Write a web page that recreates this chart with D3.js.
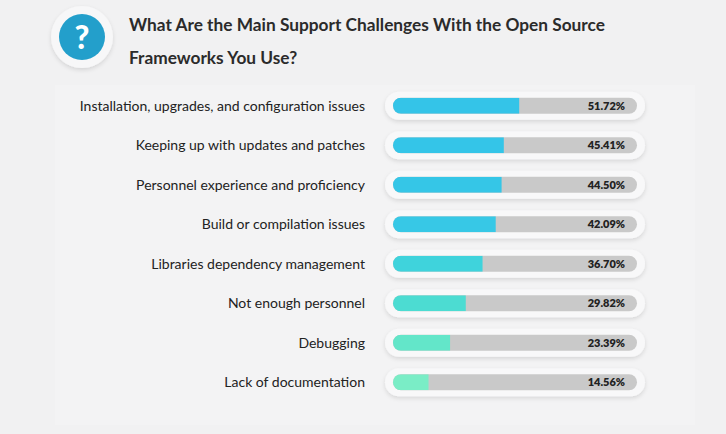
<!DOCTYPE html>
<html><head><meta charset="utf-8">
<script src="https://cdn.jsdelivr.net/npm/d3@7"></script>
<style>body{margin:0;background:#f1f1f2;font-family:Lato,"Noto Sans",sans-serif}</style>
</head><body><svg id="c" width="726" height="434"></svg>
<script>
const categories=["Installation, upgrades, and configuration issues","Keeping up with updates and patches","Personnel experience and proficiency","Build or compilation issues","Libraries dependency management","Not enough personnel","Debugging","Lack of documentation"];
const values=[51.72,45.41,44.50,42.09,36.70,29.82,23.39,14.56];
const colors=["#34c4e8","#34c5e8","#35c6e7","#37c8e6","#3fd3dc","#4cdcd2","#63e6c9","#7aedc6"];
const svg=d3.select("#c");
const defs=svg.append("defs");
const f=defs.append("filter").attr("id","sh").attr("x","-20%").attr("y","-50%").attr("width","140%").attr("height","200%");
f.append("feDropShadow").attr("dx",0).attr("dy",2).attr("stdDeviation",2).attr("flood-color","#000").attr("flood-opacity",0.12);
svg.append("rect").attr("x",55).attr("y",85).attr("width",640).attr("height",340).attr("fill","#f3f3f4");
svg.append("circle").attr("cx",82).attr("cy",37).attr("r",31).attr("fill","#f7f7f8").attr("filter","url(#sh)");
svg.append("circle").attr("cx",82).attr("cy",37).attr("r",23).attr("fill","#239fcb");
svg.append("text").attr("x",82).attr("y",49).attr("text-anchor","middle").attr("font-size",32).attr("font-weight",900).attr("fill","#fff").text("?");
svg.append("text").attr("x",129).attr("y",31).attr("font-size",17.3).attr("font-weight",700).attr("fill","#2b2b2b").text("What Are the Main Support Challenges With the Open Source");
svg.append("text").attr("x",129).attr("y",64).attr("font-size",17.3).attr("font-weight",700).attr("fill","#2b2b2b").text("Frameworks You Use?");
const y=d3.scaleBand().domain(categories).range([86,402]).paddingInner(0);
const x=d3.scaleLinear().domain([0,100]).range([393,637]);
const g=svg.selectAll("g.row").data(categories).join("g");
g.append("rect").attr("x",385).attr("width",260).attr("y",c=>y(c)+y.bandwidth()/2-14).attr("height",28).attr("rx",14).attr("fill","#f8f8f9").attr("filter","url(#sh)");
g.append("rect").attr("x",x(0)).attr("width",x(100)-x(0)).attr("y",c=>y(c)+y.bandwidth()/2-8).attr("height",16).attr("rx",8).attr("fill","#c9c9c9");
const cp=defs.selectAll("clipPath").data(categories).join("clipPath").attr("id",(c,i)=>"cp"+i);
cp.append("rect").attr("x",x(0)).attr("width",x(100)-x(0)).attr("y",c=>y(c)+y.bandwidth()/2-8).attr("height",16).attr("rx",8);
g.append("rect").attr("clip-path",(c,i)=>`url(#cp${i})`).attr("x",x(0)).attr("width",(c,i)=>x(values[i])-x(0)).attr("y",c=>y(c)+y.bandwidth()/2-8).attr("height",16).attr("fill",(c,i)=>colors[i]);
g.append("text").attr("x",625).attr("y",c=>y(c)+y.bandwidth()/2+4).attr("text-anchor","end").attr("font-size",11).attr("font-weight",800).attr("fill","#222").text((c,i)=>values[i].toFixed(2)+"%");
g.append("text").attr("x",365).attr("y",c=>y(c)+y.bandwidth()/2+5).attr("text-anchor","end").attr("font-size",14).attr("fill","#222").text(c=>c);
</script></body></html>
